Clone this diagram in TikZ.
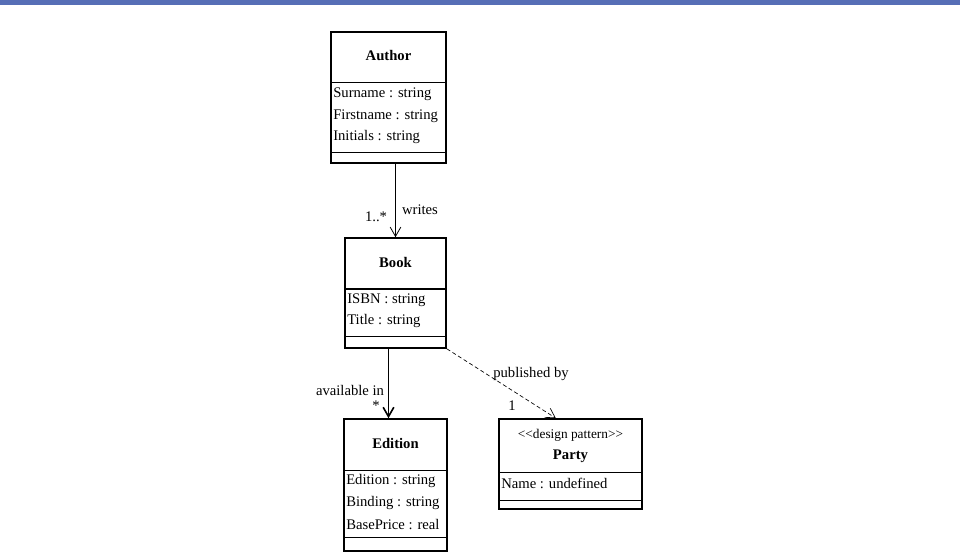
\documentclass[tikz,border=0pt]{standalone}
\usepackage{fontspec}
\setmainfont{Liberation Serif}
\usetikzlibrary{fit,arrows.meta}
\definecolor{barblue}{RGB}{86,110,182}

\begin{document}
\begin{tikzpicture}[x=0.75pt,y=-0.75pt,
 box/.style={draw,line width=1.2pt,inner sep=0pt},
 sep/.style={line width=0.6pt},
 txt/.style={font=\fontsize{11}{13}\selectfont,inner sep=0pt},
 attr/.style={txt,anchor=west},
 ctitle/.style={txt,font=\fontsize{11}{13}\selectfont\bfseries},
 assoc/.style={line width=0.6pt,-{Straight Barb[length=7pt,width=8pt]}}]
 \useasboundingbox (0,0) rectangle (960,553);
 \fill[barblue] (0,0) rectangle (960,5); %上の帯

 % Author
 \node[box,fit={(331,32) (446,163)}] (author) {};
 \draw[sep] (author.west |- 0,82)--(author.east |- 0,82);
 \draw[sep] (author.west |- 0,152)--(author.east |- 0,152);
 \node[ctitle] (author-name) at (388.5,56) {Author};
 \node[attr] (author-a1) at (333,94) {Surname : string};
 \node[attr] (author-a2) at (333,116) {Firstname : string};
 \node[attr] (author-a3) at (333,137) {Initials : string};

 % Book
 \node[box,fit={(345,238) (446,348)}] (book) {};
 \draw[line width=1.2pt] (book.west |- 0,289)--(book.east |- 0,289);
 \draw[sep] (book.west |- 0,336)--(book.east |- 0,336);
 \node[ctitle] (book-name) at (395.5,262) {Book};
 \node[attr] (book-a1) at (347,300) {ISBN : string};
 \node[attr] (book-a2) at (347,321) {Title : string};

 % Edition
 \node[box,fit={(344,419) (447,551)}] (edition) {};
 \draw[sep] (edition.west |- 0,470)--(edition.east |- 0,470);
 \node[ctitle] (edition-name) at (395.5,443) {Edition};
 \draw[sep] (edition.west |- 0,537)--(edition.east |- 0,537);
 \node[attr] (edition-a1) at (346,481) {Edition : string};
 \node[attr] (edition-a2) at (346,503) {Binding : string};
 \node[attr] (edition-a3) at (346,525) {BasePrice : real};

 % Party
 \node[box,fit={(499,419) (642,509)}] (party) {};
 \draw[sep] (party.west |- 0,472)--(party.east |- 0,472);
 \draw[sep] (party.west |- 0,500)--(party.east |- 0,500);
 \node[txt,font=\fontsize{10}{12}\selectfont] (party-stereo) at (570.5,435) {{<}{<}design pattern{>}{>}};
 \node[ctitle] (party-name) at (570.5,456) {Party};
 \node[attr] (party-a1) at (501,483) {Name : undefined};

 % 関連
 \draw[assoc] (author.south -| book.north)--(book.north); %writes
 \node[txt] (writes) at (420,210) {writes};
 \node[txt] (writes-m) at (376,217) {1..*};
 \draw[assoc,line width=1.2pt] ([xshift=-5.25pt]book.south)--([xshift=-5.25pt]book.south |- edition.north); %available in
 \node[txt] (avail) at (350,390) {available in};
 \node[txt] (avail-m) at (376,406) {*};
 \draw[assoc,densely dashed,line width=0.5pt] (book.south east)--([xshift=-11pt]party.north); %published by
 \node[txt] (pub) at (531,374) {published by};
 \node[txt] (pub-m) at (512,406) {1};
\end{tikzpicture}
\end{document}
